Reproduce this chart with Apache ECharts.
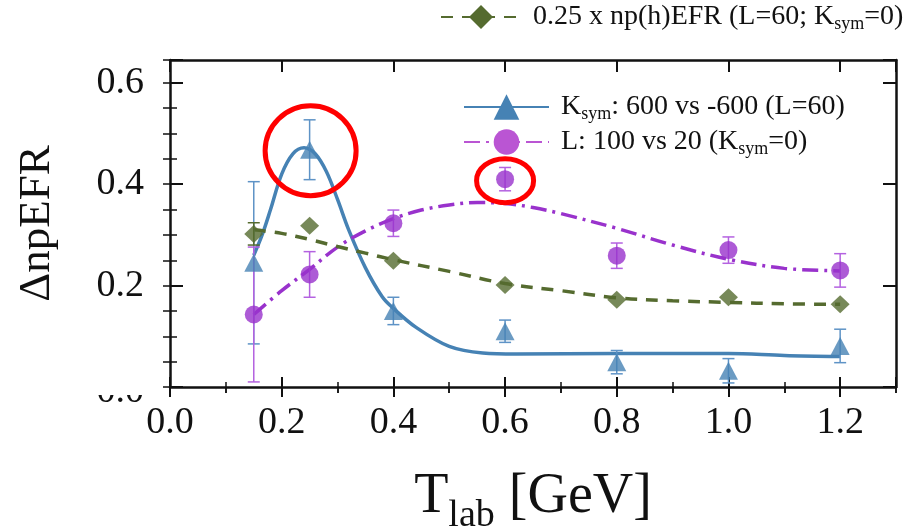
<!DOCTYPE html>
<html>
<head>
<meta charset="utf-8">
<script src="https://cdn.jsdelivr.net/npm/echarts@6/dist/echarts.min.js"></script>
<style>
  html, body { margin: 0; padding: 0; background: #fff; }
  #chart { width: 910px; height: 527px; }
</style>
</head>
<body>
<div id="chart"></div>
<script>
// Beam energies (GeV) where the ratios were computed
const tlab = [0.15, 0.25, 0.4, 0.6, 0.8, 1.0, 1.2];

// K_sym: 600 vs -600 (L=60)
const ksymVals = [0.245, 0.468, 0.150, 0.110, 0.049, 0.032, 0.081];
const ksymErrs = [0.160, 0.059, 0.027, 0.022, 0.023, 0.024, 0.033];

// L: 100 vs 20 (K_sym=0)
const lVals = [0.143, 0.222, 0.323, 0.410, 0.259, 0.270, 0.230];
const lErrs = [0.133, 0.045, 0.026, 0.023, 0.025, 0.026, 0.033];

// 0.25 x np(h)EFR (L=60; K_sym=0)
const npVals = [0.302, 0.318, 0.249, 0.201, 0.172, 0.177, 0.163];
const npErrs = [0.022, 0, 0, 0, 0, 0, 0];

// Fitted curves
const ksymCurveX = [0.15, 0.165, 0.18, 0.20, 0.22, 0.24, 0.26, 0.28, 0.30, 0.32, 0.35, 0.38, 0.40, 0.44, 0.50, 0.56, 0.62, 0.80, 1.00, 1.10, 1.20];
const ksymCurveY = [0.26, 0.30, 0.35, 0.42, 0.46, 0.472, 0.46, 0.425, 0.37, 0.31, 0.235, 0.178, 0.155, 0.118, 0.080, 0.067, 0.065, 0.066, 0.066, 0.062, 0.060];

const lCurveX = [0.15, 0.20, 0.25, 0.30, 0.35, 0.40, 0.45, 0.50, 0.55, 0.60, 0.65, 0.70, 0.80, 0.90, 1.00, 1.10, 1.20];
const lCurveY = [0.143, 0.19, 0.232, 0.276, 0.308, 0.332, 0.349, 0.359, 0.364, 0.362, 0.354, 0.342, 0.313, 0.280, 0.252, 0.234, 0.229];

const npCurveX = [0.15, 0.20, 0.25, 0.30, 0.35, 0.40, 0.50, 0.60, 0.70, 0.80, 0.90, 1.00, 1.10, 1.20];
const npCurveY = [0.310, 0.303, 0.291, 0.277, 0.264, 0.251, 0.228, 0.204, 0.190, 0.176, 0.170, 0.167, 0.164, 0.163];

// Axis ticks
const xMajor = 0.2, xMinor = 0.1, xMin = 0, xMax = 1.3;
const yMajor = 0.2, yMinor = 0.05, yMin = 0, yMax = 0.645;

const FONT = 'Liberation Serif';
const BLUE = '#4682B4', BLUE_BAR = '#5e93c6';
const PURPLE = '#9932CC', PURPLE_LIGHT = '#BA55D3', PURPLE_BAR = '#b462e0';
const GREEN = '#556B2F';
const INK = '#111';

const zip = (xs, ys) => xs.map((x, i) => [x, ys[i]]);

function xAxisOf(extra) {
  return Object.assign({
    type: 'value', min: xMin, max: xMax, interval: xMajor, gridIndex: 0,
    splitLine: { show: false }, axisLabel: { show: false },
    axisLine: { show: false }, axisTick: { show: false }
  }, extra);
}
function yAxisOf(extra) {
  return Object.assign({
    type: 'value', min: yMin, max: yMax, interval: yMajor, gridIndex: 0,
    splitLine: { show: false }, axisLabel: { show: false },
    axisLine: { show: false }, axisTick: { show: false }
  }, extra);
}
const frameLine = { show: true, onZero: false, lineStyle: { color: INK, width: 2.5 } };
const tick = (inside, length, width) => ({ show: true, inside, length, lineStyle: { color: INK, width } });

function errorSeries(vals, errs, color) {
  return {
    type: 'custom', xAxisIndex: 0, yAxisIndex: 0, z: 3, silent: true,
    data: tlab.map((x, i) => [x, vals[i] - errs[i], vals[i] + errs[i]]).filter((d, i) => errs[i] > 0),
    encode: { x: 0, y: [1, 2] },
    renderItem(params, api) {
      const lo = api.coord([api.value(0), api.value(1)]);
      const hi = api.coord([api.value(0), api.value(2)]);
      const w = 6;
      const style = { stroke: color, lineWidth: 1.5, fill: null };
      return {
        type: 'group', children: [
          { type: 'line', shape: { x1: lo[0], y1: lo[1], x2: hi[0], y2: hi[1] }, style },
          { type: 'line', shape: { x1: lo[0] - w, y1: lo[1], x2: lo[0] + w, y2: lo[1] }, style },
          { type: 'line', shape: { x1: hi[0] - w, y1: hi[1], x2: hi[0] + w, y2: hi[1] }, style }
        ]
      };
    }
  };
}

const legendRich = {
  n: { fontFamily: FONT, fontSize: 28, color: INK, lineHeight: 32 },
  p: { fontFamily: FONT, fontSize: 28, color: INK, lineHeight: 32, padding: [0, 0, 0, 7] },
  s: { fontFamily: FONT, fontSize: 18, color: INK, lineHeight: 12, verticalAlign: 'bottom' }
};
const legendText = {
  'Ksym': '{p|K}{s|sym}{n|: 600 vs -600 (L=60)}',
  'L': '{p|L: 100 vs 20 (K}{s|sym}{n|=0)}',
  'npEFR': '{p|0.25 x np(h)EFR (L=60; K}{s|sym}{n|=0)}'
};

const chart = echarts.init(document.getElementById('chart'), null, { renderer: 'canvas' });

const option = {
  animation: false,
  backgroundColor: '#fff',
  grid: { left: 170, right: 14, top: 60, bottom: 140, containLabel: false, outerBoundsMode: 'none' },
  legend: [
    {
      data: ['npEFR'], left: 440, top: 3, padding: 0, itemWidth: 80, itemHeight: 30,
      formatter: n => legendText[n], textStyle: { rich: legendRich }, selectedMode: false
    },
    {
      data: [
        'Ksym',
        { name: 'L', itemStyle: { color: PURPLE_LIGHT }, lineStyle: { color: PURPLE_LIGHT } }
      ],
      orient: 'vertical', left: 463, top: 93, padding: 0, itemWidth: 85, itemHeight: 32, itemGap: 5,
      formatter: n => legendText[n], textStyle: { rich: legendRich }, selectedMode: false
    }
  ],
  xAxis: [
    xAxisOf({
      position: 'bottom', axisLine: frameLine, axisTick: tick(false, 10, 2),
      axisLabel: {
        show: true, fontFamily: FONT, fontSize: 38, color: INK, margin: 17,
        showMaxLabel: false, formatter: v => v.toFixed(1)
      },
      name: '{t|T}{s|lab}{t| [GeV]}', nameLocation: 'middle', nameGap: 80,
      nameTextStyle: {
        rich: {
          t: { fontFamily: FONT, fontSize: 56, color: INK, lineHeight: 60 },
          s: { fontFamily: FONT, fontSize: 38, color: INK, verticalAlign: 'bottom', padding: [0, 0, -8, 0] }
        }
      }
    }),
    xAxisOf({ position: 'bottom', axisTick: tick(true, 10, 2) }),
    xAxisOf({ position: 'bottom', interval: xMinor, axisTick: tick(false, 6, 1.5) }),
    xAxisOf({ position: 'bottom', interval: xMinor, axisTick: tick(true, 5, 1.5) }),
    xAxisOf({ position: 'top', axisLine: frameLine, axisTick: tick(true, 12, 2) }),
    xAxisOf({ position: 'top', interval: xMinor, axisTick: tick(true, 6, 1.5) })
  ],
  yAxis: [
    yAxisOf({
      position: 'left', axisLine: frameLine, axisTick: tick(true, 13, 2),
      axisLabel: {
        show: true, fontFamily: FONT, fontSize: 38, color: INK, margin: 26,
        formatter: v => (v > 0.001 && v < 0.61) ? v.toFixed(1) : ''
      },
      name: 'ΔnpEFR', nameLocation: 'middle', nameGap: 110, nameRotate: 90,
      nameTextStyle: { fontFamily: FONT, fontSize: 45, color: INK }
    }),
    yAxisOf({ position: 'left', interval: yMinor, axisTick: tick(true, 7, 1.5) }),
    yAxisOf({ position: 'right', axisLine: frameLine, axisTick: tick(true, 13, 2) }),
    yAxisOf({ position: 'right', interval: yMinor, axisTick: tick(true, 7, 1.5) })
  ],
  series: [
    {
      name: 'Ksym', type: 'line', xAxisIndex: 0, yAxisIndex: 0, z: 2,
      data: zip(ksymCurveX, ksymCurveY), smooth: 0.35,
      symbol: 'triangle', showSymbol: false, color: BLUE,
      lineStyle: { color: BLUE, width: 3.5 }
    },
    {
      name: 'L', type: 'line', xAxisIndex: 0, yAxisIndex: 0, z: 2,
      data: zip(lCurveX, lCurveY), smooth: 0.35,
      symbol: 'circle', showSymbol: false, color: PURPLE,
      lineStyle: { color: PURPLE, width: 3.5, type: [16, 6, 3, 6] }
    },
    {
      name: 'npEFR', type: 'line', xAxisIndex: 0, yAxisIndex: 0, z: 2,
      data: zip(npCurveX, npCurveY), smooth: 0.35,
      symbol: 'diamond', showSymbol: false, color: GREEN,
      lineStyle: { color: GREEN, width: 3.5, type: [12, 9] }
    },
    errorSeries(ksymVals, ksymErrs, BLUE_BAR),
    errorSeries(lVals, lErrs, PURPLE_BAR),
    errorSeries(npVals, npErrs, GREEN),
    {
      name: 'Ksym points', type: 'scatter', xAxisIndex: 0, yAxisIndex: 0, z: 4,
      data: zip(tlab, ksymVals), symbol: 'triangle', symbolSize: [19, 18],
      itemStyle: { color: BLUE }
    },
    {
      name: 'L points', type: 'scatter', xAxisIndex: 0, yAxisIndex: 0, z: 4,
      data: zip(tlab, lVals), symbol: 'circle', symbolSize: 18,
      itemStyle: { color: PURPLE }
    },
    {
      name: 'npEFR points', type: 'scatter', xAxisIndex: 0, yAxisIndex: 0, z: 4,
      data: zip(tlab, npVals), symbol: 'diamond', symbolSize: [19, 18],
      itemStyle: { color: GREEN }
    }
  ]
};

chart.setOption(option);

// Highlight rings around the K_sym peak and the L point at 0.6 GeV,
// plus the partly hidden zero label under the frame corner.
const peak = chart.convertToPixel({ xAxisIndex: 0, yAxisIndex: 0 }, [tlab[1], ksymVals[1]]);
const lHigh = chart.convertToPixel({ xAxisIndex: 0, yAxisIndex: 0 }, [tlab[3], lVals[3]]);
const zero = chart.convertToPixel({ yAxisIndex: 0 }, 0);

chart.setOption({
  graphic: [
    {
      type: 'ellipse', z: 100,
      shape: { cx: peak[0] + 1, cy: peak[1] + 1, rx: 45.5, ry: 45 },
      style: { fill: null, stroke: '#ff0000', lineWidth: 5 }
    },
    {
      type: 'ellipse', z: 100,
      shape: { cx: lHigh[0], cy: lHigh[1] + 1.5, rx: 28.5, ry: 22 },
      style: { fill: null, stroke: '#ff0000', lineWidth: 5 }
    },
    {
      type: 'text', z: 90, x: 144, y: zero + 5,
      style: { text: '0.0', fontFamily: FONT, fontSize: 38, fill: INK, align: 'right', verticalAlign: 'middle' }
    },
    {
      type: 'rect', z: 91, shape: { x: 80, y: zero - 30, width: 80, height: 38 },
      style: { fill: '#fff' }
    }
  ]
});
</script>
</body>
</html>
